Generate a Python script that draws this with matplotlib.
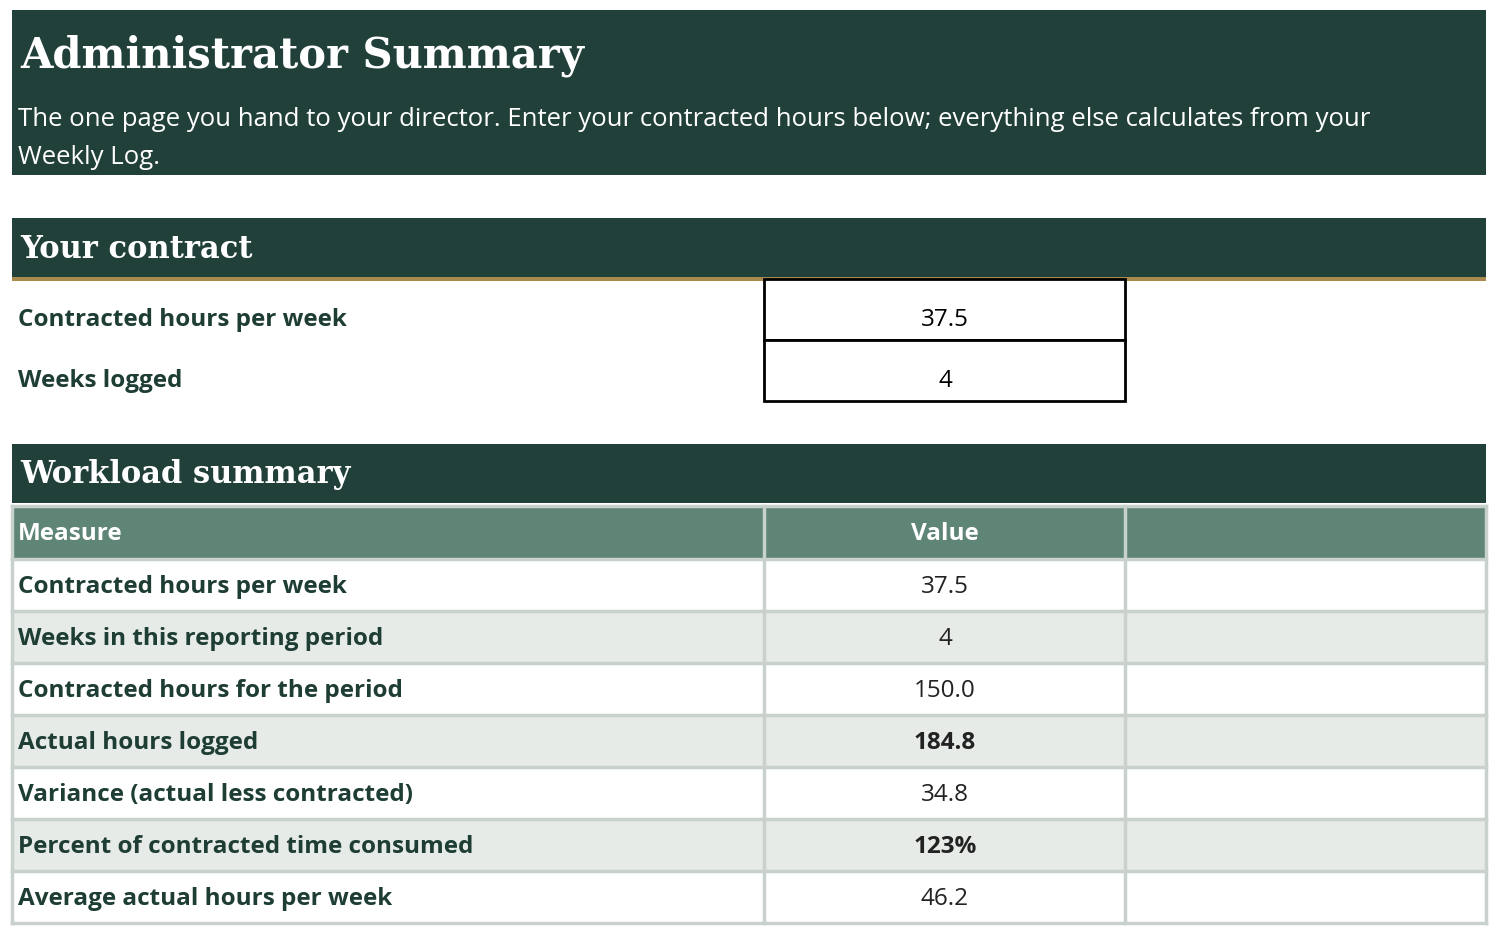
import matplotlib
matplotlib.use("Agg")
import matplotlib.pyplot as plt
from matplotlib.patches import Rectangle

title = "Administrator Summary"
subtitle = ["The one page you hand to your director. Enter your contracted hours below; everything else calculates from your",
            "Weekly Log."]
contract_labels = ["Contracted hours per week", "Weeks logged"]
contract_values = ["37.5", "4"]
header = ["Measure", "Value", ""]
measures = ["Contracted hours per week", "Weeks in this reporting period", "Contracted hours for the period",
            "Actual hours logged", "Variance (actual less contracted)", "Percent of contracted time consumed",
            "Average actual hours per week"]
values = ["37.5", "4", "150.0", "184.8", "34.8", "123%", "46.2"]
bold_value = [False, False, False, True, False, True, False]

DARK = "#21403A"; GOLD = "#A88A4E"; HEAD = "#5E8576"; ALT = "#E6EBE7"; GRID = "#C9D1CD"; TXT = "#1E3D35"
SANS = ["Open Sans", "DejaVu Sans"]; SERIF = ["DejaVu Serif"]
FS = 17.5

fig = plt.figure(figsize=(14.98, 9.35), dpi=100)
ax = fig.add_axes([0, 0, 1, 1]); ax.set_xlim(0, 1498); ax.set_ylim(935, 0); ax.axis("off")

def rect(x0, y0, x1, y1, fc, ec="none", lw=0, z=1):
    ax.add_patch(Rectangle((x0, y0), x1 - x0, y1 - y0, facecolor=fc, edgecolor=ec, linewidth=lw, zorder=z))

rect(12, 10, 1486, 175, DARK)
ax.text(20, 56, title, family=SERIF, weight="bold", size=30, color="white", va="center")
for i, s in enumerate(subtitle):
    ax.text(18, 119 + 39 * i, s, family=SANS, size=18.5, color="white", va="center")

rect(12, 218, 1486, 277, DARK)
ax.text(20, 249, "Your contract", family=SERIF, weight="bold", size=22, color="white", va="center")
rect(12, 277, 1486, 281, GOLD)
for i, (l, v) in enumerate(zip(contract_labels, contract_values)):
    y0 = 279 + 61 * i
    rect(764, y0, 1125, y0 + 61, "white", "black", 2, z=3)
    ax.text(18, y0 + 41, l, family=SANS, weight="bold", size=FS, color=TXT, va="center")
    ax.text(945, y0 + 41, v, family=SANS, size=FS, color="black", va="center", ha="center", zorder=4)

rect(12, 444, 1486, 503, DARK)
ax.text(20, 474, "Workload summary", family=SERIF, weight="bold", size=22, color="white", va="center")

cols = [12, 764, 1125, 1486]
rect(12, 506, 1486, 559, HEAD)
ax.text(18, 534, header[0], family=SANS, weight="bold", size=FS, color="white", va="center")
ax.text(945, 534, header[1], family=SANS, weight="bold", size=FS, color="white", va="center", ha="center")
rh = 52
for i, (m, v, b) in enumerate(zip(measures, values, bold_value)):
    y0 = 559 + rh * i
    rect(12, y0, 1486, y0 + rh, ALT if i % 2 else "white")
    ax.text(18, y0 + rh / 2 + 2, m, family=SANS, weight="bold", size=FS, color=TXT, va="center")
    ax.text(945, y0 + rh / 2 + 2, v, family=SANS, weight="bold" if b else "normal", size=FS,
            color="#222222", va="center", ha="center")
yb = 559 + rh * len(measures)
for y in [506, 559] + [559 + rh * k for k in range(1, len(measures) + 1)]:
    ax.plot([12, 1486], [y, y], color=GRID, lw=2.5, zorder=2)
for x in cols:
    ax.plot([x, x], [506, yb], color=GRID, lw=2.5, zorder=2)

fig.savefig("out.png", dpi=100)
